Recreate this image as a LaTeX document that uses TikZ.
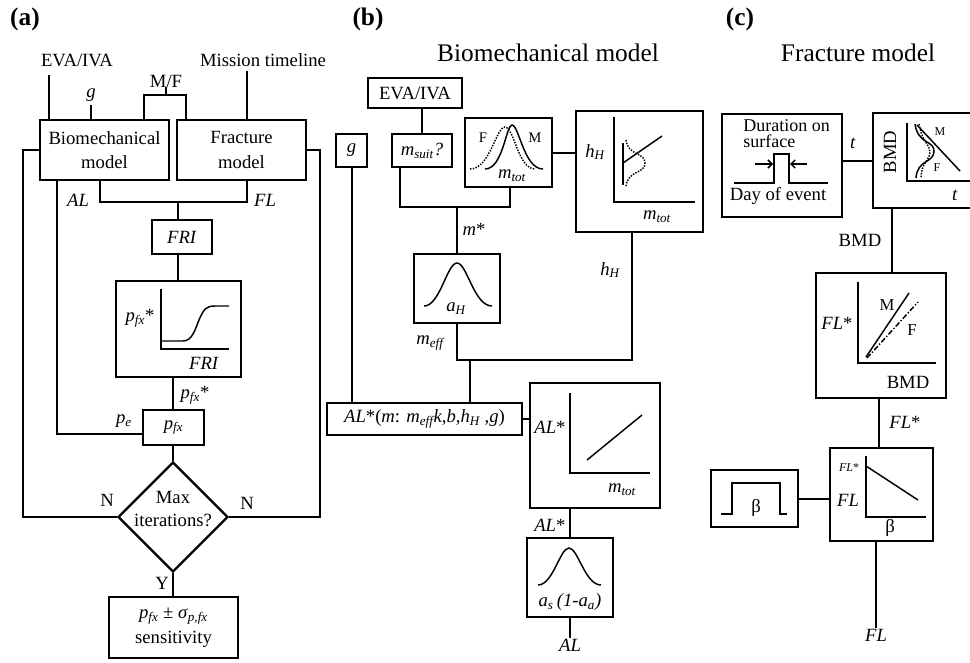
\documentclass[tikz,border=0pt]{standalone}
\usepackage{fontspec}
\setmainfont{Liberation Serif}
\usetikzlibrary{shapes.geometric,arrows.meta}
\newcommand\mysub[1]{\textsubscript{\itshape #1}}
\newcommand\bxn[6]{\node[bx, minimum width={(#4-#2)*0.75pt}, minimum height={(#5-#3)*0.75pt}] (#1) at ({(#2+#4)/2},{(#3+#5)/2}) {#6};}
\begin{document}
\begin{tikzpicture}[x=0.75pt,y=-0.75pt,
  bx/.style={draw, line width=1.8pt, inner sep=0pt, align=center, font=\fontsize{14}{18.5}\selectfont},
  lbl/.style={inner sep=1pt, font=\fontsize{14}{17}\selectfont},
  tight/.style={inner sep=0pt, font=\fontsize{13.5}{14}\selectfont},
  small/.style={inner sep=0.5pt, font=\fontsize{11}{12}\selectfont},
  mid/.style={inner sep=0.5pt, font=\fontsize{12.5}{13}\selectfont},
  tiny/.style={inner sep=0.5pt, font=\fontsize{9}{10}\selectfont},
  ttl/.style={inner sep=0pt, font=\fontsize{19}{22}\selectfont},
  pan/.style={inner sep=0pt, font=\fontsize{19}{22}\selectfont\bfseries},
  con/.style={line width=1.5pt},
  pl/.style={line width=1.1pt},
  dia/.style={draw, shape=diamond, line width=1.8pt, minimum width=82.5pt, minimum height=82.5pt, inner sep=0pt}]
\useasboundingbox (0,0) rectangle (970,662);
\clip (0,0) rectangle (970,662);
% ================= panel (a)
\node[pan] (pa) at (25,19) {(a)};
\node[lbl, anchor=base, inner ysep=6.5pt] (evaA) at (77,66) {EVA/IVA};
\node[lbl, anchor=base, inner ysep=3pt] (gA) at (91,97) {\textit{g}};
\node[lbl, anchor=base, inner ysep=0pt] (mfA) at (166,87) {M/F};
\node[lbl, anchor=base, inner ysep=3.7pt] (mtA) at (263,66) {Mission timeline};
\bxn{bio}{40}{120}{169}{180}{Biomechanical\\model}
\bxn{frac}{177}{120}{306}{180}{Fracture\\model}
\draw[con] (evaA.south -| 49,0) -- (bio.north -| 49,0);
\draw[con] (gA.south) -- (bio.north -| gA.south);
\coordinate (mfj) at (166,95);
\draw[con] (mfA.south) -- (mfj);
\draw[con] (bio.north -| 144,0) |- (mfj) -| (frac.north -| 186,0);
\draw[con] (mtA.south -| 247,0) -- (frac.north -| 247,0);
\node[lbl] (alA) at (78,200) {\textit{AL}};
\node[lbl] (flA) at (265,200) {\textit{FL}};
\coordinate (alfl) at (178,202);
\draw[con] (bio.south -| 100,0) |- (alfl) -| (frac.south -| 247,0);
\bxn{fri}{152}{220}{212}{254}{\textit{FRI}}
\draw[con] (alfl) -- (alfl |- fri.north);
\bxn{pplot}{116}{281}{241}{377}{}
\draw[con] (fri.south -| alfl) -- (pplot.north -| alfl);
\draw[pl] (161,289) -- (161,349) -- (229,349);
\draw[pl] (161,341) -- (183,341) .. controls (192,341) and (195,330) .. (199,320) .. controls (204,308) and (207,306) .. (215,306) -- (229,306);
\node[lbl] at (140,318) {\textit{p}\mysub{fx}*};
\node[lbl] at (204,363) {\textit{FRI}};
\bxn{pfx}{143}{410}{204}{445}{\textit{p}\mysub{fx}}
\draw[con] (pplot.south -| 173,0) -- (pfx.north -| 173,0);
\node[lbl, anchor=west] at (179,395) {\textit{p}\mysub{fx}*};
\node[lbl] at (124,421) {\textit{p}\mysub{e}};
\draw[con] (bio.south -| 57,0) |- ([yshift=-4.5pt]pfx.west);
\node[dia] (dia) at (173,517) {};
\node[lbl, align=center, font=\fontsize{14}{17}\selectfont] (diaT) at (173,509) {Max\\iterations?};
\draw[con] (pfx.south -| dia.north) -- (dia.north);
\draw[con] (bio.west) -- (bio.west -| 23,0) |- (dia.west);
\draw[con] (frac.east) -- (frac.east -| 320,0) |- (dia.east);
\node[lbl] at (107,500) {N};
\node[lbl] at (247,503) {N};
\node[lbl] at (162,583) {Y};
\bxn{res}{109}{597}{238}{658}{\textit{p}\mysub{fx} ± \textit{σ}\mysub{p,fx}\\sensitivity}
\draw[con] (dia.south) -- (res.north -| dia.south);
% ================= panel (b)
\node[pan] at (368,19) {(b)};
\node[ttl] at (548,53) {Biomechanical model};
\bxn{evab}{368}{78}{462}{108}{EVA/IVA}
\bxn{msuit}{392}{134}{452}{167}{\textit{m}\mysub{suit}\textit{?}}
\bxn{gb}{336}{134}{367}{167}{\textit{g}}
\bxn{dist}{465}{118}{552}{187}{}
\bxn{hH}{576}{111}{703}{232}{}
\bxn{aH}{414}{254}{500}{323}{}
\bxn{alb}{327}{403}{522}{435}{\textit{AL}*(\textit{m}: \textit{m}\mysub{eff}\textit{k},\textit{b},\textit{h}\mysub{H} ,\textit{g})}
\bxn{alplot}{530}{383}{660}{508}{}
\bxn{as}{527}{538}{613}{617}{}
\draw[con] (evab.south -| msuit.north) -- (msuit.north);
\coordinate (mj) at (457,207);
\draw[con] (msuit.south -| 400,0) |- (mj) -| (dist.south -| 510,0);
\draw[con] (mj) -- (aH.north);
\node[lbl, anchor=west] at (461,229) {\textit{m}*};
\draw[con] (dist.east) -- (dist.east -| hH.west);
\coordinate (mj2) at (470,360);
\draw[con] (aH.south) |- (mj2) -| (hH.south -| 632,0);
\draw[con] (mj2) -- (alb.north -| mj2);
\draw[con] (gb.south) -- (alb.north -| gb.south);
\node[lbl] at (430,343) {\textit{m}\mysub{eff}};
\node[lbl] at (610,270) {\textit{h}\mysub{H}};
\draw[con] (alb.east) -- (alb.east -| alplot.west);
\draw[con] (alplot.south -| as.north) -- (as.north);
\node[lbl, anchor=east] at (567,525) {\textit{AL}*};
\node[lbl, anchor=north] (alout) at (570,638) {\textit{AL}};
\draw[con] (as.south) -- (alout.north);
% dist
\draw[pl, densely dotted] (470,169) .. controls (490,169) and (496,127) .. (505,127) .. controls (514,127) and (518,169) .. (535,169);
\draw[pl] (485,169) .. controls (503,169) and (506,125) .. (512,125) .. controls (519,125) and (524,169) .. (543,169);
\node[small] at (483,138) {F};
\node[small] at (535,138) {M};
\node[lbl] at (512,176) {\textit{m}\mysub{tot}};
% hH
\draw[pl] (614,117) -- (614,202) -- (695,202);
\draw[pl] (623,143) -- (623,185);
\draw[pl] (623,163) -- (662,136);
\draw[pl, densely dotted] (626,140) .. controls (628,156) and (645,152) .. (645,163) .. controls (645,174) and (628,170) .. (626,186);
\node[lbl] at (595,152) {\textit{h}\mysub{H}};
\node[lbl] at (657,217) {\textit{m}\mysub{tot}};
% aH
\draw[pl] (424,306) .. controls (440,306) and (447,263) .. (457,263) .. controls (467,263) and (474,306) .. (492,306);
\node[lbl] at (456,309) {\textit{a}\mysub{H}};
% AL plot
\draw[pl] (570,393) -- (570,473) -- (650,473);
\draw[pl] (587,460) -- (642,415);
\node[lbl] at (550,427) {\textit{AL}*};
\node[lbl] at (622,490) {\textit{m}\mysub{tot}};
% as
\draw[pl] (538,585) .. controls (553,585) and (560,548) .. (569,548) .. controls (578,548) and (585,585) .. (601,585);
\node[lbl] at (570,602) {\textit{a}\mysub{s}\,\textit{(1-a}\mysub{a}\textit{)}};
% ================= panel (c)
\node[pan] at (740,19) {(c)};
\node[ttl] at (858,53) {Fracture model};
\bxn{dur}{722}{114}{842}{217}{}
\node[tight, anchor=base west] at (743,131) {Duration on};
\node[tight, anchor=base west] at (743,147) {surface};
\draw[pl] (734,183) -- (774,183) -- (774,154) -- (789,154) -- (789,183) -- (828,183);
\draw[pl, -{Straight Barb[length=3pt]}] (755,164) -- (773,164);
\draw[pl, -{Straight Barb[length=3pt]}] (807,164) -- (790,164);
\node[lbl, anchor=base] at (778,200) {Day of event};
\bxn{bmd}{873}{113}{990}{208}{}
\draw[con] (bmd.west) -- (bmd.west -| dur.east);
\node[lbl] at (853,143) {\textit{t}};
\node[lbl, rotate=90] at (890,152) {BMD};
\draw[pl] (907,123) -- (907,181) -- (975,181);
\draw[pl] (917,125) -- (960,171);
\draw[pl] (915,124) .. controls (918,145) and (935,140) .. (934,152) .. controls (933,163) and (917,160) .. (916,178);
\draw[pl, densely dotted] (919,124) .. controls (922,142) and (930,145) .. (930,152) .. controls (930,160) and (921,163) .. (921,178);
\node[tiny] at (940,132) {M};
\node[tiny] at (937,168) {F};
\node[lbl] at (955,195) {\textit{t}};
\bxn{flplot}{816}{273}{946}{398}{}
\draw[con] (bmd.south -| 892,0) -- (flplot.north -| 892,0);
\node[lbl] at (860,240) {BMD};
\draw[pl] (858,282) -- (858,363) -- (936,363);
\draw[pl] (866,357) -- (909,293);
\draw[pl, dash pattern=on 4pt off 1.5pt on 1pt off 1.5pt] (867,358) -- (918,302);
\node[mid] at (887,305) {M};
\node[mid] at (912,330) {F};
\node[lbl] at (837,323) {\textit{FL}*};
\node[lbl] at (908,382) {BMD};
\bxn{fl}{830}{448}{933}{541}{}
\draw[con] (flplot.south -| 879,0) -- (fl.north -| 879,0);
\node[lbl] at (905,422) {\textit{FL}*};
\draw[pl] (866,456) -- (866,517) -- (926,517);
\draw[pl] (866,466) -- (918,500);
\node[tiny] at (849,468) {\textit{FL}*};
\node[lbl] at (848,500) {\textit{FL}};
\node[lbl] at (890,528) {β};
\bxn{beta}{711}{470}{798}{527}{}
\draw[pl] (721,514) -- (732,514) -- (732,483) -- (780,483) -- (780,514) -- (787,514);
\node[lbl] at (756,508) {β};
\draw[con] (beta.east) -- (beta.east -| fl.west);
\node[lbl, anchor=north] (flout) at (876,628) {\textit{FL}};
\draw[con] (fl.south -| flout.north) -- (flout.north);
\end{tikzpicture}
\end{document}
